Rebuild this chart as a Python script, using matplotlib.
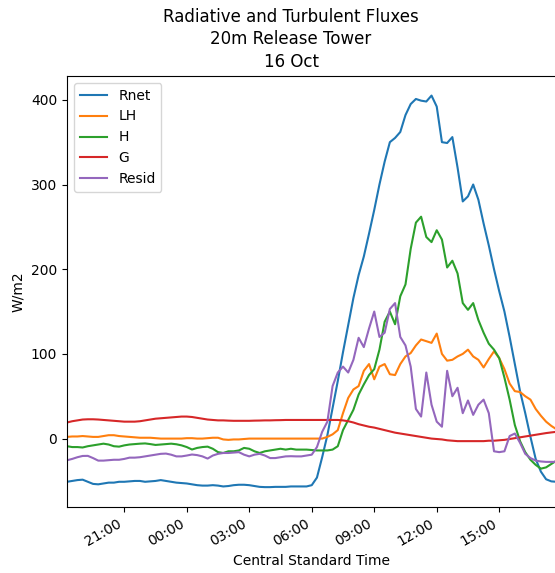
import numpy as np
import pandas as pd
import matplotlib
matplotlib.use("Agg")
import matplotlib.pyplot as plt
import matplotlib.dates as mdates

# 15-min samples, 15 Oct 18:15 CST -> 16 Oct 17:45 CST
times = pd.date_range("2019-10-15 18:15", "2019-10-16 17:45", freq="15min")

rnet = [-51, -50, -49, -48.5, -51, -53.5, -54, -53, -52, -52, -51, -51, -50.5, -50, -50, -51,
        -50.5, -50, -49, -50, -51, -52, -52.5, -53, -54, -55, -55.5, -55.5, -55, -55.5, -56.5, -56,
        -55, -54.5, -54.5, -55, -56, -57, -57.3, -57.3, -57, -57, -57, -56.5, -56.5, -56.5, -56.5, -55,
        -46, -22, 4, 36, 68, 102, 134, 166, 193, 215, 242, 270, 300, 327, 350, 355,
        362, 382, 395, 401, 399, 398, 405, 392, 350, 349, 356, 320, 280, 286, 300, 282,
        254, 228, 200, 174, 150, 120, 88, 56, 30, 2, -24, -39, -48, -50.5, -51]

lh = [2, 2.5, 2.5, 3, 2.5, 2, 2, 3, 4, 4, 3, 2.5, 2, 1.5, 1, 1,
      1, 0.5, 0, 0, 0, 0, 0, 0.5, 0.5, 0, 0, 0.5, 1, 1, -1, -1.5,
      -1, -1, -0.5, 0, 0, 0, 0, 0, 0, 0, 0, 0, 0, 0, 0, 0,
      0, 0, 2, 5, 10, 30, 48, 58, 62, 80, 88, 70, 85, 88, 76, 75,
      88, 97, 101, 110, 117, 115, 113, 124, 100, 92, 93, 97, 100, 105, 97, 93,
      84, 94, 103, 95, 82, 65, 56, 55, 50, 46, 35, 27, 20, 15, 11]

h = [-9, -10, -10, -10.5, -9, -8, -7, -6, -7, -9, -9.5, -8, -7, -6.5, -6, -5.7,
     -6.5, -7.5, -7, -6.5, -6, -6.7, -8, -10, -12.9, -11, -10, -9.5, -12, -16, -17, -15,
     -15, -14, -11, -12, -15, -17, -15, -14, -13, -12, -13, -12, -13, -13, -13, -13.5,
     -14, -14, -14, -13, -9, 10, 22, 34, 52, 64, 75, 82, 105, 138, 150, 135,
     168, 182, 224, 255, 262, 238, 232, 246, 235, 202, 210, 195, 160, 152, 160, 140,
     125, 112, 105, 95, 72, 46, 16, -3, -16, -25, -31, -35.5, -34, -30, -26]

g = [19, 20.5, 21.5, 22.5, 22.8, 22.8, 22.5, 22, 21.5, 21, 20.5, 20, 20, 20, 20.5, 21.5,
     22.5, 23.5, 24, 24.5, 25, 25.5, 26, 26, 25.5, 24.5, 23.5, 22.5, 22, 21.5, 21.5, 21.2,
     21, 21, 21, 21, 21.2, 21.3, 21.5, 21.5, 21.7, 21.8, 22, 22, 22, 22, 22, 22,
     22, 22, 22, 22, 22, 21.5, 20.5, 19, 17, 15.5, 14, 13, 11.5, 10, 8.5, 7,
     6, 5, 4, 3, 2, 1, 0, -0.5, -1, -2, -2.5, -3, -3, -3, -3, -3,
     -3, -2.5, -2.5, -2, -1.5, -0.5, 0.5, 1.5, 2.5, 3.5, 4.5, 5.5, 6.5, 7.3, 8]

resid = [-25.6, -24, -22, -20.5, -20.4, -23, -26, -26, -25.5, -25, -25, -24, -22.5, -22.5, -22, -21,
         -20, -19, -18, -17.7, -19, -21, -21, -20, -18.8, -19.5, -21, -23.6, -20, -18, -17, -17,
         -16.5, -16, -19, -21, -19, -18, -20, -23, -23, -22, -21, -20.8, -21, -21, -20, -19,
         -10, 8, 20, 62, 78, 85, 78, 93, 119, 108, 130, 150, 120, 125, 153, 160,
         120, 110, 85, 35, 26, 78, 40, 20, 14, 80, 50, 60, 30, 45, 28, 40,
         46, 30, -15, -16, -15, 3, 6, -5, -18, -23, -26, -27, -27.5, -27.5, -27.5]

series = {"Rnet": rnet, "LH": lh, "H": h, "G": g, "Resid": resid}

fig = plt.figure(figsize=(5.55, 5.73), dpi=100)
ax = fig.add_axes([67 / 555, 66.3 / 573, 489.5 / 555, 430.7 / 573])

for name, vals in series.items():
    ax.plot(times, vals, label=name)

ax.set_xlim(times[0], times[-1])
ax.xaxis.set_major_locator(mdates.HourLocator(byhour=range(0, 24, 3)))
ax.xaxis.set_major_formatter(mdates.DateFormatter("%H:%M"))
for lbl in ax.get_xticklabels():
    lbl.set_rotation(30)
    lbl.set_ha("right")

ax.set_xlabel("Central Standard Time")
ax.set_ylabel("W/m2")
ax.legend(loc="upper left")

fig.suptitle("Radiative and Turbulent Fluxes\n20m Release Tower\n16 Oct",
             x=291 / 555, y=1 - 8 / 573, va="top", fontsize=12, linespacing=1.32)

fig.savefig("out.png", dpi=100)
